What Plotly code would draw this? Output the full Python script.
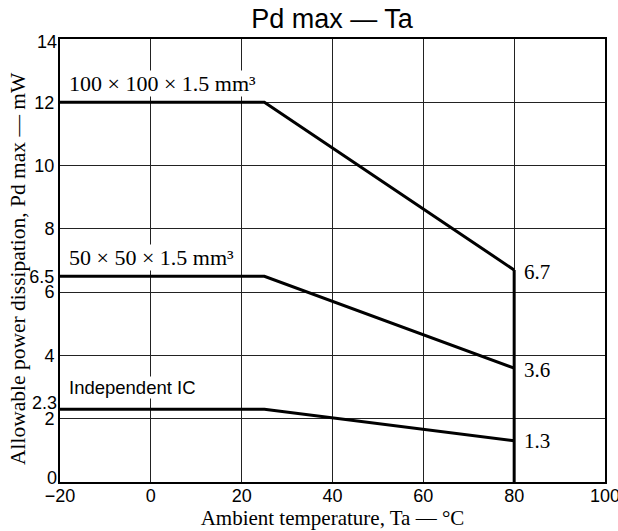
import plotly.graph_objects as go

temps = [-20, 25, 80]
pd_100 = [12, 12, 6.7]
pd_50 = [6.5, 6.5, 3.6]
pd_ic = [2.3, 2.3, 1.3]
cutoff_x = [80, 80]
cutoff_y = [0, 6.7]

x_ticks = [-20, 0, 20, 40, 60, 80, 100]
x_ticktext = ["\u221220", "0", "20", "40", "60", "80", "100"]
y_ticks = [2, 4, 6, 6.5, 8, 10, 12]
y_ticktext = ["2", "4", "6", "6.5", "8", "10", "12"]
# tick labels drawn slightly off their value in the reference
y_offset_ticks = [0, 2.3, 14]
y_offset_text = ["0", "2.3", "14"]
y_offset_px = [4, 6, -3]

series_labels = ["100 \u00d7 100 \u00d7 1.5 mm\u00b3", "50 \u00d7 50 \u00d7 1.5 mm\u00b3", "Independent IC"]
label_pos = [(-18.3, 12.6), (-18.3, 7.08), (-18.3, 3.0)]
end_labels = ["6.7", "3.6", "1.3"]
end_y = [6.65, 3.55, 1.3]

title_text = "Pd max \u2014 Ta"
x_title = "Ambient temperature, Ta \u2014 \u00b0C"
y_title = "Allowable power dissipation, Pd max \u2014 mW"

SERIF = "Liberation Serif, Times New Roman, serif"
SANS = "Liberation Sans, Arial, sans-serif"

W, H = 618, 531

fig = go.Figure()
line = dict(color="black", width=3)
for ys in (pd_100, pd_50, pd_ic):
    fig.add_trace(go.Scatter(x=temps, y=ys, mode="lines", line=line, showlegend=False, hoverinfo="skip"))
fig.add_trace(go.Scatter(x=cutoff_x, y=cutoff_y, mode="lines", line=line, showlegend=False, hoverinfo="skip"))

annotations = []
for i, (txt, (ax, ay)) in enumerate(zip(series_labels, label_pos)):
    annotations.append(dict(
        x=ax, y=ay, xref="x", yref="y", text=txt, showarrow=False,
        xanchor="left", yanchor="middle", bgcolor="white", borderpad=0,
        font=dict(family=SERIF if i < 2 else SANS, size=22 if i < 2 else 18.5, color="black"),
    ))
for txt, yy in zip(end_labels, end_y):
    annotations.append(dict(
        x=81.8, y=yy, xref="x", yref="y", text=txt, showarrow=False,
        xanchor="left", yanchor="middle",
        font=dict(family=SERIF, size=21, color="black"),
    ))
for v, txt, sh in zip(y_offset_ticks, y_offset_text, y_offset_px):
    annotations.append(dict(
        x=0, y=v, xref="paper", yref="y", text=txt, showarrow=False,
        xanchor="right", yanchor="middle", xshift=-1, yshift=sh,
        font=dict(family=SANS, size=18, color="black"),
    ))
# y-axis title
annotations.append(dict(
    x=0, y=(482 - 269) / 443, xref="paper", yref="paper", text=y_title, showarrow=False,
    textangle=-90, xanchor="center", yanchor="middle", xshift=-42,
    font=dict(family=SERIF, size=21.5, color="black"),
))

fig.update_layout(
    width=W, height=H,
    margin=dict(l=60, r=13, t=39, b=49),
    paper_bgcolor="white", plot_bgcolor="white",
    title=dict(text=title_text, x=332 / W, xref="container", xanchor="center",
               y=1 - 19 / H, yref="container", yanchor="middle",
               automargin=False,
               font=dict(family=SANS, size=27, color="black")),
    annotations=annotations,
    xaxis=dict(
        range=[-20, 100], tickvals=x_ticks, ticktext=x_ticktext,
        showgrid=True, gridcolor="#222", gridwidth=1,
        showline=True, linecolor="black", linewidth=2, mirror=True,
        ticks="", zeroline=False, automargin=False, ticklabeloverflow="allow",
        ticklabelstandoff=-4,
        tickfont=dict(family=SANS, size=18, color="black"),
        title=dict(text=x_title, standoff=4,
                   font=dict(family=SERIF, size=21, color="black")),
    ),
    yaxis=dict(
        range=[0, 14], tickvals=y_ticks, ticktext=y_ticktext,
        showgrid=False,
        minor=dict(dtick=2, tick0=0, showgrid=True, gridcolor="#222", gridwidth=1, ticks=""),
        showline=True, linecolor="black", linewidth=2, mirror=True,
        ticks="", zeroline=False, automargin=False,
        tickfont=dict(family=SANS, size=18, color="black"),
    ),
)

fig.write_html(
    "out.html",
    config={"displayModeBar": False},
    post_script="document.body.style.margin='0';document.body.style.overflow='hidden';",
)
